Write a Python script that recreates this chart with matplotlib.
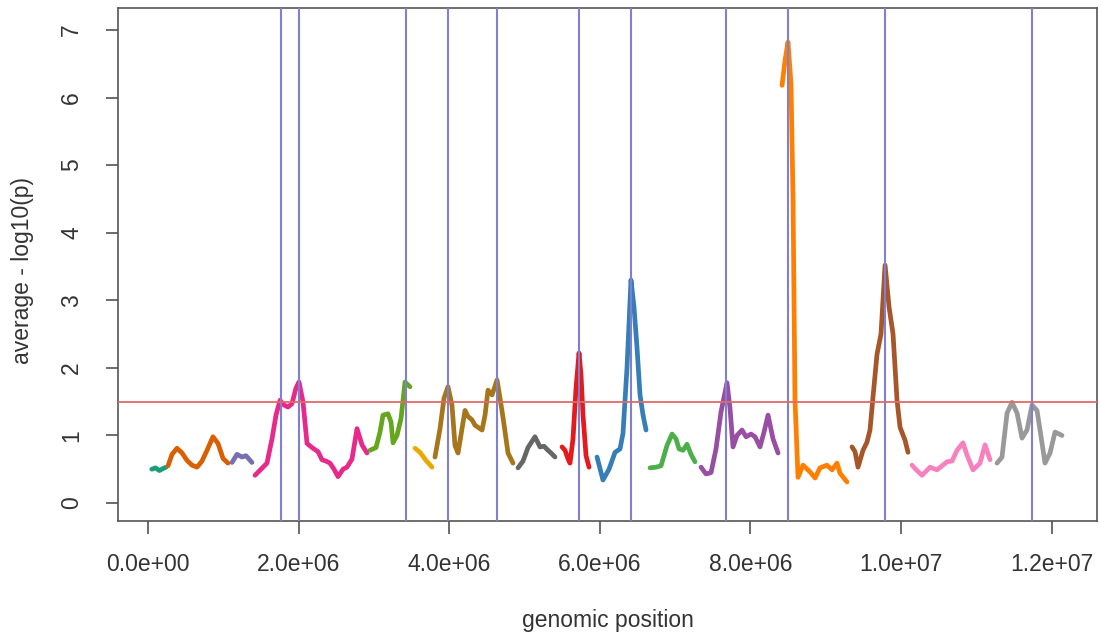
import matplotlib
matplotlib.use("Agg")
import matplotlib.pyplot as plt
import numpy as np

plt.rcParams['font.family'] = ['Liberation Sans', 'DejaVu Sans']

# ---- data (positions in Mb, values = average -log10(p)) ----
pos_01 = [0.05, 0.10, 0.15, 0.20, 0.24]
val_01 = [0.50, 0.52, 0.48, 0.51, 0.53]
pos_02 = [0.266, 0.319, 0.385, 0.452, 0.518, 0.584, 0.651, 0.717, 0.784, 0.863, 0.930, 0.996, 1.062]
val_02 = [0.55, 0.72, 0.81, 0.74, 0.63, 0.56, 0.53, 0.62, 0.78, 0.98, 0.88, 0.66, 0.59]
pos_03 = [1.116, 1.182, 1.248, 1.301, 1.381]
val_03 = [0.60, 0.72, 0.68, 0.70, 0.60]
pos_04 = [1.421, 1.501, 1.580, 1.647, 1.700, 1.753, 1.806, 1.859, 1.912, 1.965, 2.005, 2.058,
          2.112, 2.191, 2.258, 2.311, 2.364, 2.417, 2.470, 2.523, 2.590, 2.643, 2.709, 2.776, 2.842, 2.908]
val_04 = [0.41, 0.50, 0.59, 0.95, 1.30, 1.52, 1.45, 1.42, 1.47, 1.70, 1.79, 1.50,
          0.88, 0.81, 0.76, 0.64, 0.62, 0.59, 0.50, 0.39, 0.50, 0.53, 0.65, 1.10, 0.86, 0.74]
pos_05 = [2.948, 3.028, 3.081, 3.121, 3.187, 3.227, 3.254, 3.307, 3.360, 3.413, 3.479]
val_05 = [0.78, 0.82, 1.05, 1.30, 1.32, 1.20, 0.89, 1.00, 1.25, 1.79, 1.72]
pos_06 = [3.546, 3.612, 3.692, 3.772]
val_06 = [0.81, 0.75, 0.63, 0.53]
pos_07 = [3.811, 3.878, 3.931, 3.984, 4.037, 4.077, 4.117, 4.170, 4.210, 4.250, 4.303,
          4.343, 4.383, 4.436, 4.476, 4.515, 4.569, 4.635, 4.675, 4.714, 4.781, 4.847]
val_07 = [0.68, 1.10, 1.55, 1.72, 1.45, 0.85, 0.74, 1.10, 1.37, 1.28, 1.23,
          1.15, 1.12, 1.08, 1.30, 1.67, 1.60, 1.82, 1.55, 1.27, 0.74, 0.59]
pos_08 = [4.914, 4.980, 5.046, 5.139, 5.206, 5.259, 5.312, 5.352, 5.405]
val_08 = [0.52, 0.62, 0.82, 0.98, 0.83, 0.84, 0.78, 0.74, 0.68]
pos_09 = [5.498, 5.538, 5.578, 5.604, 5.644, 5.684, 5.724, 5.750, 5.777, 5.817, 5.857]
val_09 = [0.83, 0.78, 0.65, 0.59, 0.95, 1.70, 2.22, 1.90, 1.30, 0.70, 0.53]
pos_10 = [5.963, 6.042, 6.122, 6.202, 6.268, 6.308, 6.361, 6.414, 6.454, 6.494, 6.534, 6.574, 6.614]
val_10 = [0.68, 0.34, 0.50, 0.75, 0.80, 1.03, 2.00, 3.30, 2.90, 2.30, 1.60, 1.30, 1.08]
pos_11 = [6.667, 6.746, 6.813, 6.892, 6.959, 7.012, 7.052, 7.105, 7.158, 7.211, 7.264]
val_11 = [0.52, 0.53, 0.55, 0.85, 1.02, 0.95, 0.80, 0.78, 0.87, 0.72, 0.61]
pos_12 = [7.344, 7.410, 7.477, 7.543, 7.610, 7.689, 7.729, 7.769, 7.822, 7.888, 7.942,
          8.008, 8.061, 8.127, 8.181, 8.234, 8.300, 8.367]
val_12 = [0.53, 0.43, 0.45, 0.80, 1.35, 1.78, 1.40, 0.83, 1.00, 1.08, 0.98,
          1.02, 0.98, 0.83, 1.05, 1.30, 0.95, 0.74]
pos_13 = [8.420, 8.460, 8.499, 8.539, 8.566, 8.592, 8.632, 8.699, 8.792, 8.858, 8.924,
          9.017, 9.084, 9.150, 9.190, 9.283]
val_13 = [6.18, 6.55, 6.82, 6.20, 4.50, 1.52, 0.38, 0.56, 0.46, 0.37, 0.52,
          0.56, 0.49, 0.59, 0.44, 0.31]
pos_14 = [9.349, 9.389, 9.429, 9.495, 9.548, 9.588, 9.628, 9.681, 9.734, 9.788, 9.841,
          9.894, 9.947, 9.987, 10.053, 10.093]
val_14 = [0.83, 0.76, 0.53, 0.78, 0.90, 1.08, 1.57, 2.20, 2.50, 3.52, 2.90,
          2.50, 1.52, 1.12, 0.93, 0.75]
pos_15 = [10.146, 10.212, 10.279, 10.385, 10.478, 10.611, 10.677, 10.744, 10.823, 10.876,
          10.956, 11.049, 11.116, 11.182]
val_15 = [0.56, 0.48, 0.41, 0.53, 0.49, 0.61, 0.62, 0.78, 0.89, 0.71,
          0.49, 0.59, 0.86, 0.64]
pos_16 = [11.275, 11.341, 11.408, 11.474, 11.541, 11.607, 11.673, 11.740, 11.806, 11.846,
          11.912, 11.979, 12.045, 12.138]
val_16 = [0.59, 0.68, 1.33, 1.49, 1.33, 0.96, 1.08, 1.45, 1.37, 1.08,
          0.59, 0.74, 1.05, 1.00]

seg_colors = ['#1b9e77', '#d95f02', '#7570b3', '#e7298a', '#66a61e', '#e6ab02', '#a6761d', '#666666',
              '#e41a1c', '#377eb8', '#4daf4a', '#984ea3', '#ff7f00', '#a65628', '#f781bf', '#999999']

peak_positions = [1.766, 2.005, 3.426, 3.984, 4.635, 5.724, 6.414, 7.676, 8.499, 9.788, 11.74]  # Mb
threshold = 1.5

x_ticks = [0, 2e6, 4e6, 6e6, 8e6, 10e6, 12e6]
x_tick_labels = ['0.0e+00', '2.0e+06', '4.0e+06', '6.0e+06', '8.0e+06', '1.0e+07', '1.2e+07']
y_ticks = [0, 1, 2, 3, 4, 5, 6, 7]

positions = [pos_01, pos_02, pos_03, pos_04, pos_05, pos_06, pos_07, pos_08,
             pos_09, pos_10, pos_11, pos_12, pos_13, pos_14, pos_15, pos_16]
values = [val_01, val_02, val_03, val_04, val_05, val_06, val_07, val_08,
          val_09, val_10, val_11, val_12, val_13, val_14, val_15, val_16]

# ---- figure ----
fig = plt.figure(figsize=(11.01, 6.39), dpi=100)
ax = fig.add_axes([0.1072, 0.1847, 0.8892, 0.8028])

for p, v, c in zip(positions, values, seg_colors):
    ax.plot(np.array(p) * 1e6, v, color=c, lw=3.4, solid_joinstyle='round',
            solid_capstyle='round', zorder=2)

for pk in peak_positions:
    ax.axvline(pk * 1e6, color='#8080d2', lw=1.5, zorder=3)

ax.axhline(threshold, color='#e06a6a', lw=1.3, zorder=3)

ax.set_xlim(-0.398e6, 12.603e6)
ax.set_ylim(-0.266, 7.325)

ax.set_xticks(x_ticks)
ax.set_xticklabels(x_tick_labels)
ax.set_yticks(y_ticks)
ax.set_yticklabels([str(t) for t in y_ticks], rotation=90, va='center')

ax.tick_params(axis='both', direction='out', length=9, width=1.1, color='#444444',
               labelsize=16.5, labelcolor='#333333')
ax.tick_params(axis='x', pad=14)
ax.tick_params(axis='y', pad=16)

for s in ax.spines.values():
    s.set_color('#555555')
    s.set_linewidth(1.2)

fig.text(0.5 * (118 + 1097) / 1101, 1 - 620 / 639, 'genomic position', ha='center', va='center',
         fontsize=16.5, color='#333333')
fig.text(23 / 1101, 1 - 270 / 639, 'average - log10(p)', ha='center', va='center',
         rotation=90, fontsize=16.5, color='#333333')

fig.savefig('out.png', dpi=100)
